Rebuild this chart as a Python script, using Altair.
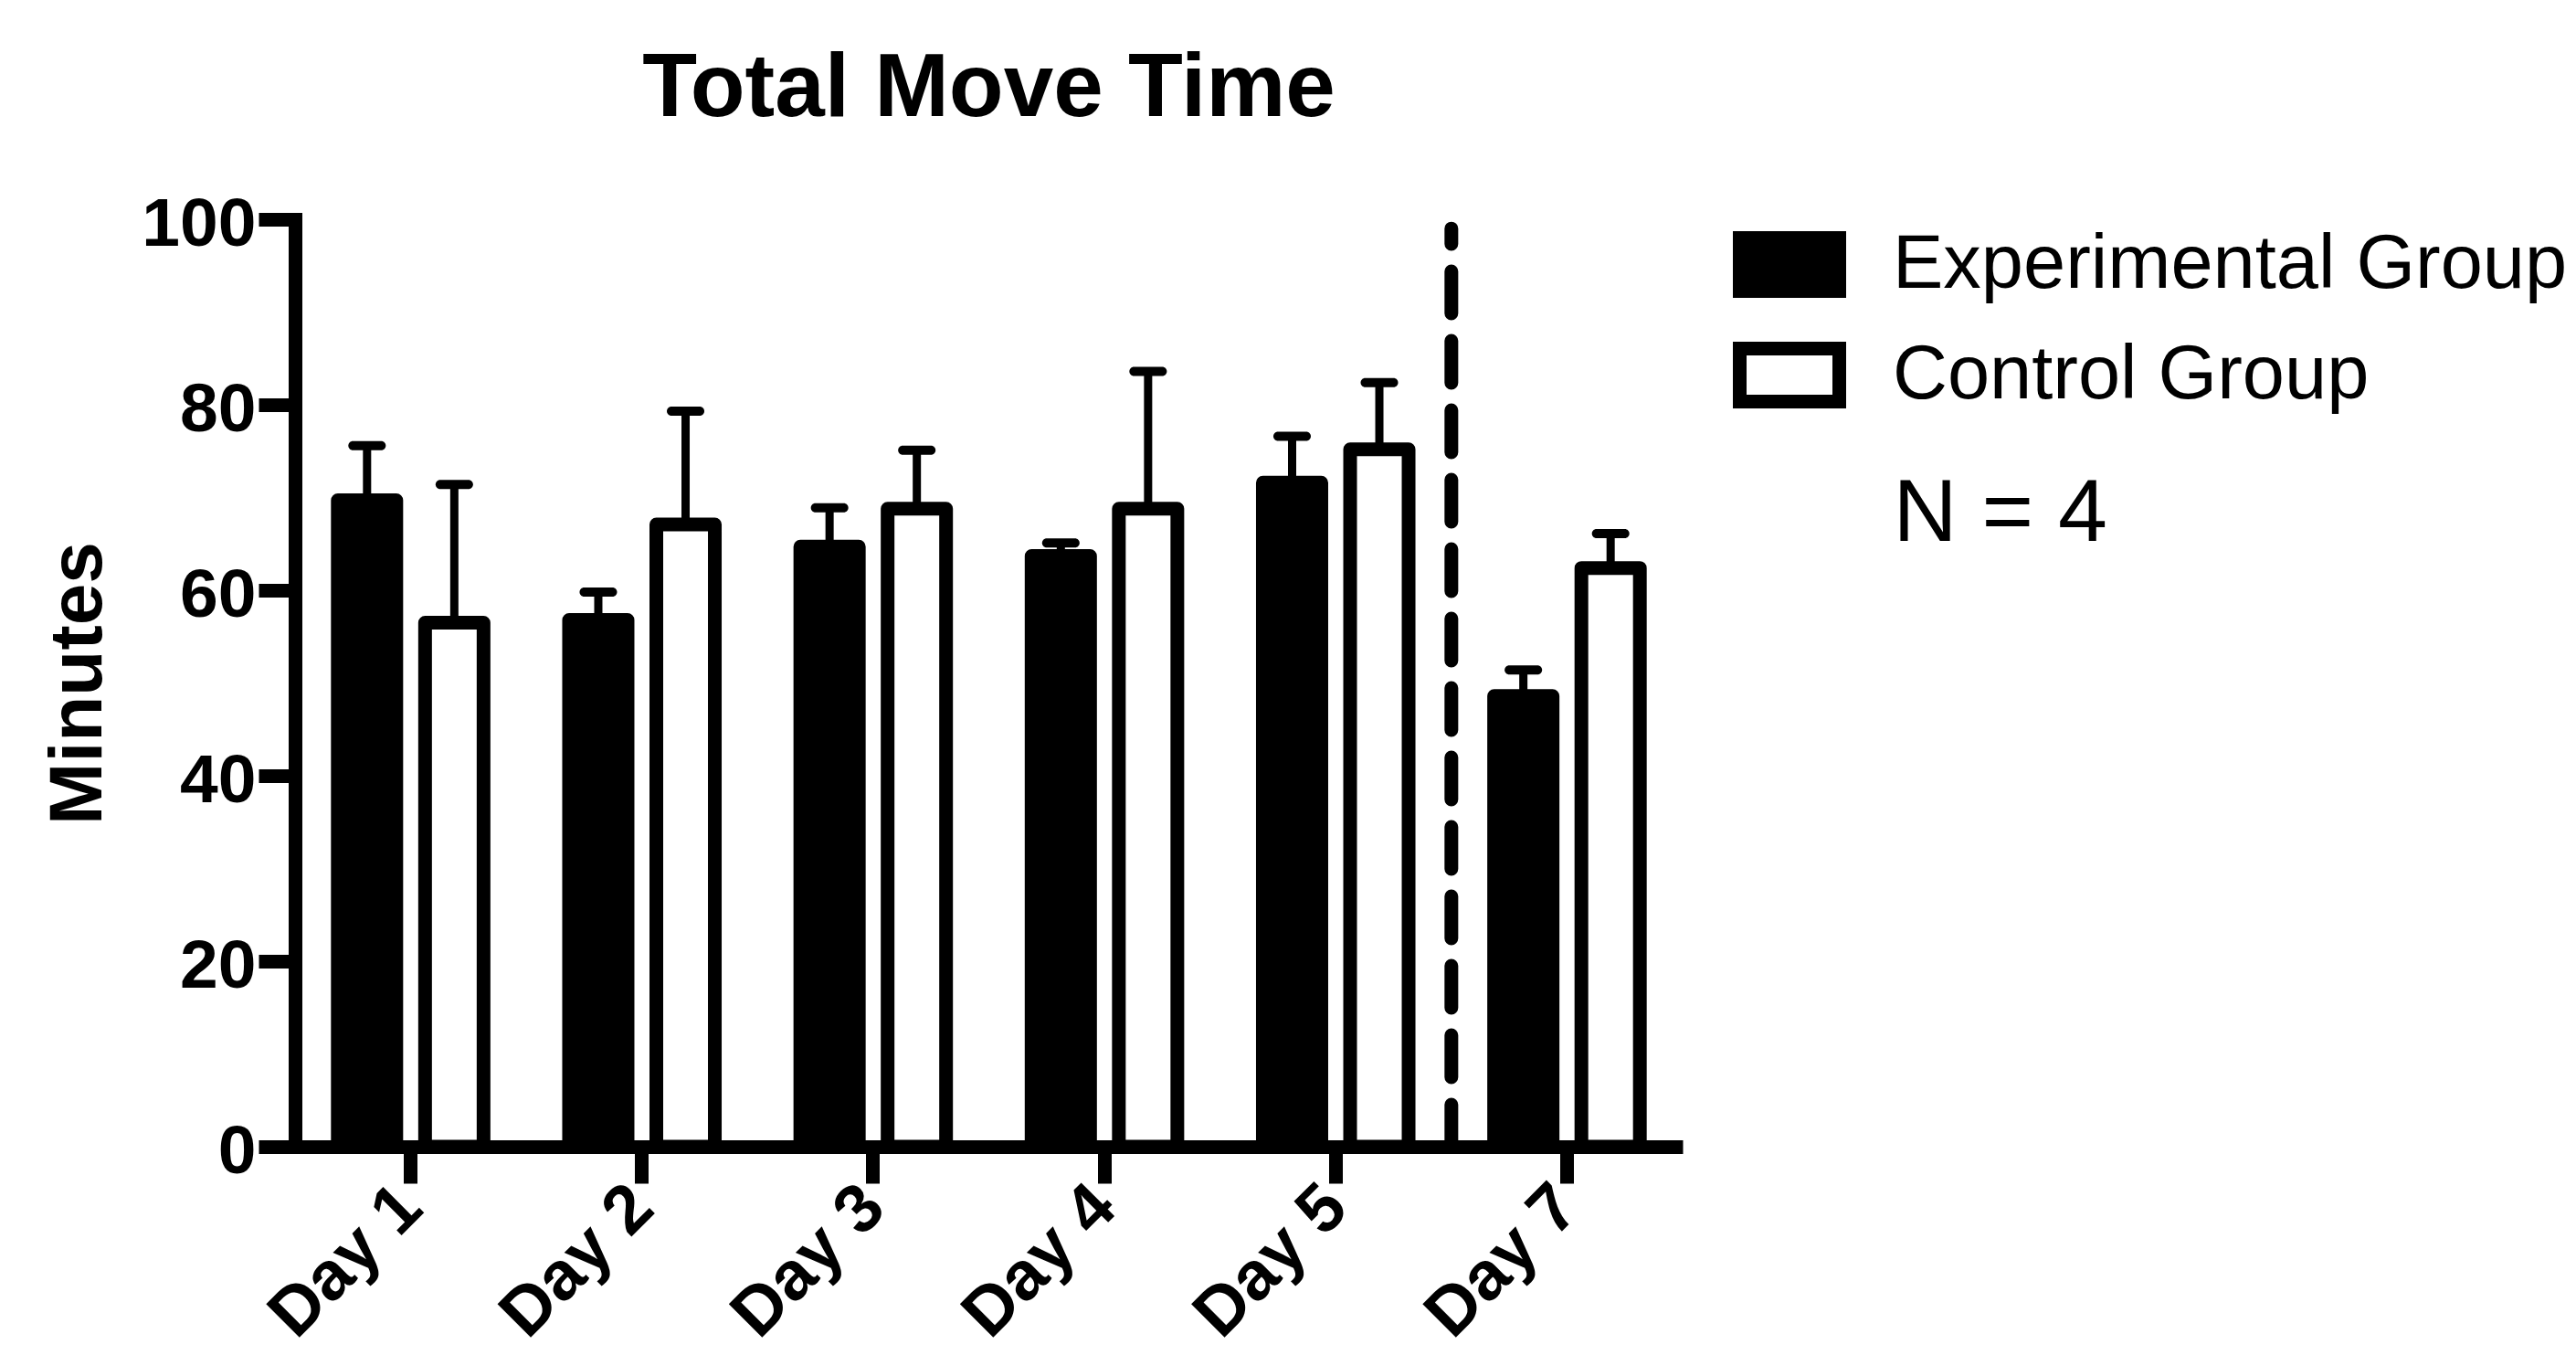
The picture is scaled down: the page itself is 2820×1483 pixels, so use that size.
import altair as alt
import pandas as pd

# ---- data ----
days = ["Day 1", "Day 2", "Day 3", "Day 4", "Day 5", "Day 7"]
groups = ["Experimental Group", "Control Group"]
exp_mean = [69.7, 56.8, 64.7, 63.7, 71.6, 48.6]
exp_err = [5.9, 3.0, 4.2, 1.4, 5.0, 2.8]
ctrl_mean = [56.5, 67.1, 68.8, 68.8, 75.2, 62.4]
ctrl_err = [14.9, 12.2, 6.3, 14.8, 7.2, 3.7]
y_ticks = [0, 20, 40, 60, 80, 100]
sep_day = ["Day 5"]          # dashed separator after this day
sep_range = [0, 99]
n_label = ["N = 4"]

rows = []
for i, d in enumerate(days):
    rows.append({"day": d, "group": groups[0], "mean": exp_mean[i], "upper": exp_mean[i] + exp_err[i]})
    rows.append({"day": d, "group": groups[1], "mean": ctrl_mean[i], "upper": ctrl_mean[i] + ctrl_err[i]})
df = pd.DataFrame(rows)
sep_df = pd.DataFrame({"day": sep_day, "y0": [sep_range[0]], "y1": [sep_range[1]]})
n_df = pd.DataFrame({"t": n_label})

FONT = "Liberation Sans"
W, H = 1519, 1015

xscale = alt.Scale(paddingInner=0, paddingOuter=0)
xaxis = alt.Axis(title=None, labelAngle=315, labelAlign="right", labelBaseline="middle",
                 labelFontSize=75, labelFontWeight="bold", labelPadding=14, labelLimit=3000,
                 tickSize=40, tickWidth=15, domainWidth=15, labelOverlap=False)
yscale = alt.Scale(domain=[0, 100], nice=False)
yaxis = alt.Axis(title="Minutes", values=y_ticks, tickSize=40, tickWidth=15, domainWidth=15,
                 domainCap="square", labelFontSize=75, labelFontWeight="bold", labelPadding=3,
                 labelOffset=5, labelFlush=False, labelLimit=3000, titleFontSize=82,
                 titleFontWeight="bold", titleAngle=270, titleX=-213, titleY=H / 2,
                 titleAlign="center", titleBaseline="alphabetic", titleLimit=3000)
xoff = alt.XOffset("group:N", sort=groups, scale=alt.Scale(paddingInner=0.33, paddingOuter=0.49))
xenc = alt.X("day:N", sort=days, scale=xscale, axis=xaxis)

base = alt.Chart(df)

bars = base.mark_bar(stroke="black", strokeWidth=15, strokeJoin="round").encode(
    x=xenc,
    xOffset=xoff,
    y=alt.Y("mean:Q", scale=yscale, axis=yaxis),
    fill=alt.Fill("group:N", sort=groups,
                  scale=alt.Scale(domain=groups, range=["black", "white"]),
                  legend=alt.Legend(title=None, orient="none", legendX=1574, legendY=-12.5,
                                    direction="vertical",
                                    symbolType="M-1,-0.532H1V0.532H-1Z", symbolSize=11881,
                                    symbolStrokeWidth=15, symbolStrokeColor="black",
                                    symbolOpacity=1,
                                    labelFont=FONT, labelFontSize=83, labelColor="black",
                                    labelOffset=51, labelLimit=3000, rowPadding=0, padding=0)),
)

err_stem = base.mark_rule(color="black", strokeWidth=9).encode(
    x=xenc, xOffset=xoff,
    y=alt.Y("mean:Q", scale=yscale, axis=yaxis),
    y2="upper:Q",
)

err_cap = base.mark_tick(color="black", size=41, thickness=10, cornerRadius=5, opacity=1).encode(
    x=xenc, xOffset=xoff,
    y=alt.Y("upper:Q", scale=yscale, axis=yaxis),
)

sep = alt.Chart(sep_df).mark_rule(color="black", strokeWidth=15, strokeDash=[46, 30],
                                  strokeCap="round").encode(
    x=alt.X("day:N", sort=days, scale=xscale, axis=xaxis, bandPosition=1),
    y=alt.Y("y0:Q", scale=yscale, axis=yaxis),
    y2="y1:Q",
)

ntext = alt.Chart(n_df).mark_text(font=FONT, fontSize=97, color="black", align="left",
                                  baseline="alphabetic").encode(
    text="t:N", x=alt.value(1749.5), y=alt.value(352),
)

chart = alt.layer(err_stem, err_cap, bars, sep, ntext).properties(
    width=W, height=H,
    title=alt.Title("Total Move Time", font=FONT, fontSize=98, fontWeight="bold", color="black",
                    anchor="middle", baseline="bottom", offset=56, dy=94, frame="group"),
    autosize=alt.AutoSizeParams(type="none"),
    padding={"left": 315, "top": 232, "right": 970, "bottom": 214},
).configure_view(strokeWidth=0).configure_axis(
    domainColor="black", tickColor="black", labelColor="black", titleColor="black",
    labelFont=FONT, titleFont=FONT, grid=False,
)

chart.save("out.html", embed_options={"renderer": "svg", "actions": False})
